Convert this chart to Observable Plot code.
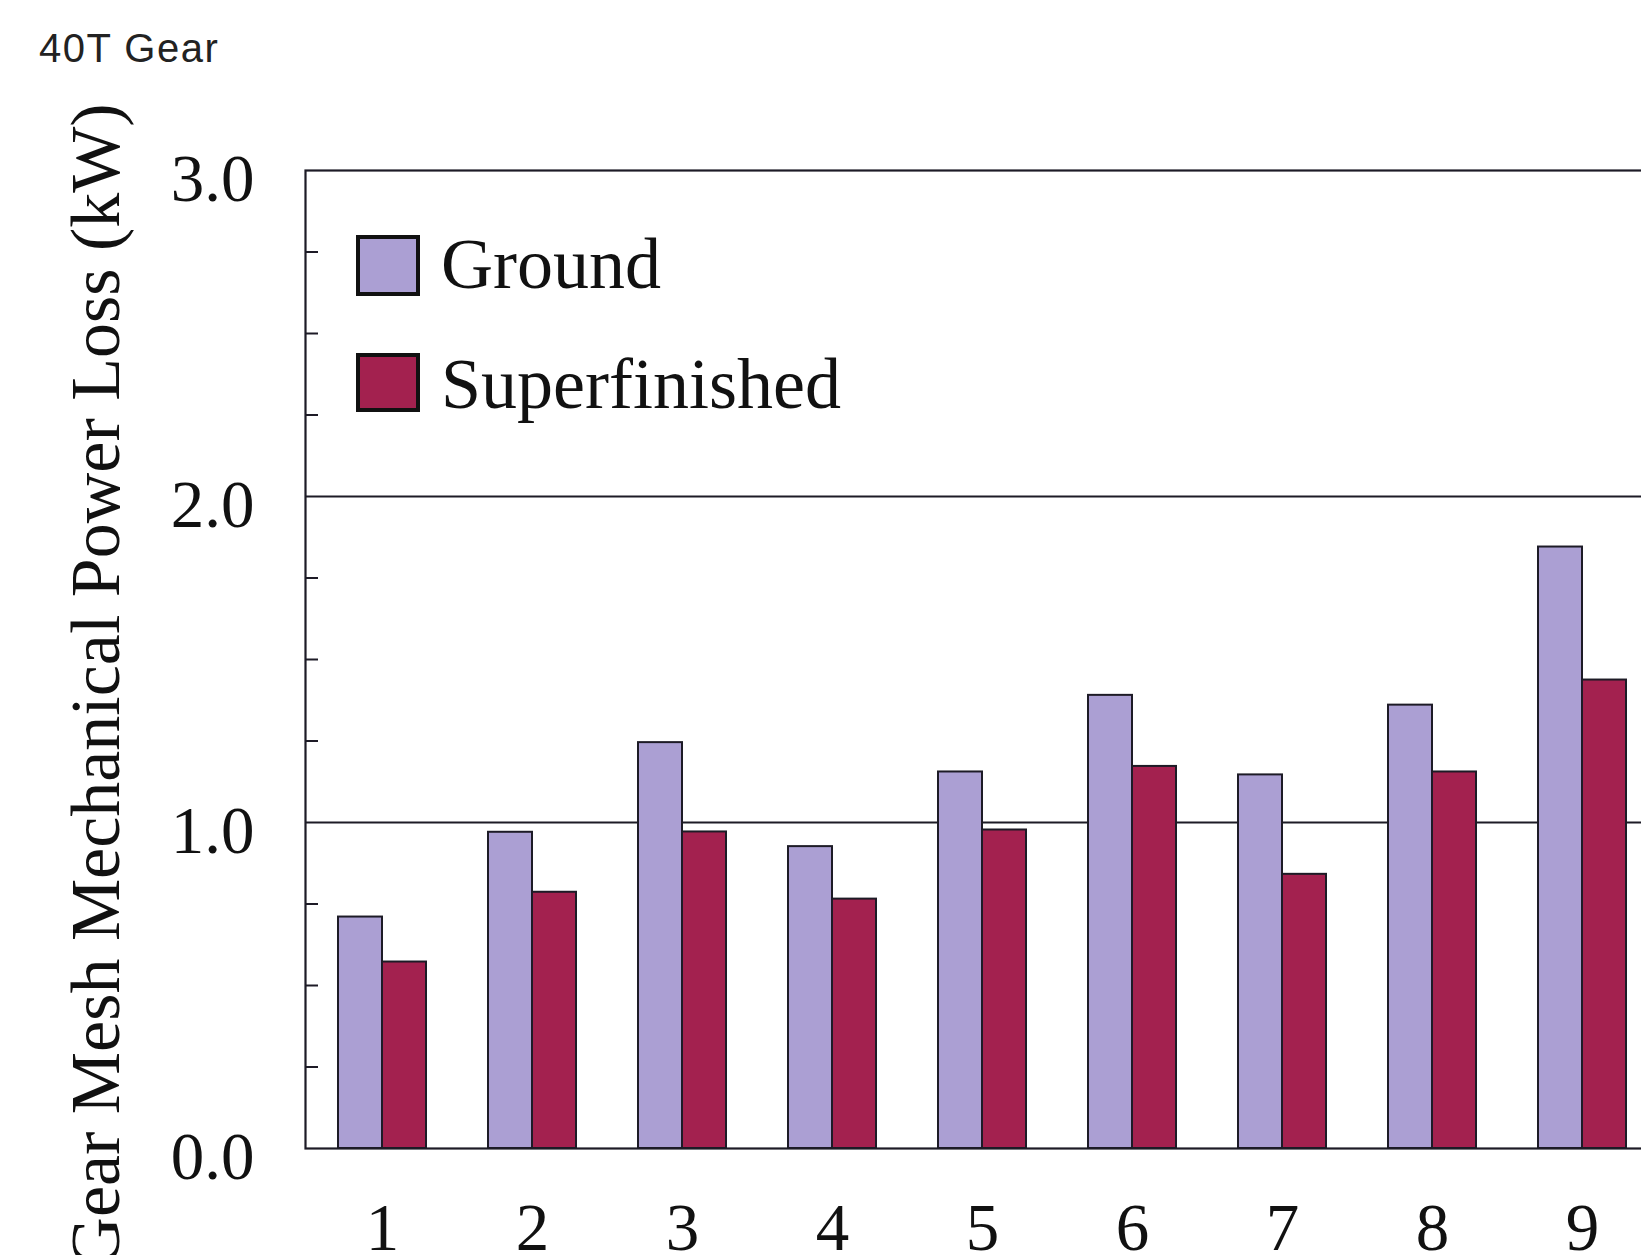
<!DOCTYPE html>
<html>
<head>
<meta charset="utf-8">
<script src="https://cdn.jsdelivr.net/npm/d3@7"></script>
<script src="https://cdn.jsdelivr.net/npm/@observablehq/plot@0.6"></script>
<style>
  html, body { margin: 0; padding: 0; background: white; overflow: hidden; }
  #page { position: relative; width: 1641px; height: 1255px; overflow: hidden; background: white; }
  #title { position: absolute; left: 39px; top: 28px; font: 40px/1 "Liberation Sans", Arial, sans-serif; letter-spacing: 1.5px; color: #222; white-space: nowrap; }
  #chart { position: absolute; left: 0; top: 80px; width: 1700px; height: 1175px; }
  #chart svg { max-width: none !important; }
  .sw { position: absolute; left: 356px; width: 56px; box-sizing: content-box; border: 4px solid #111; }
  .lt { position: absolute; left: 441px; font: 72px/1 "Liberation Serif", "Times New Roman", serif; color: #111; white-space: nowrap; }
</style>
</head>
<body>
<div id="page">
  <div id="title">40T Gear</div>
  <div id="chart"></div>
  <div id="legend"></div>
</div>
<script>
// ---- data ----
const groups = ["1", "2", "3", "4", "5", "6", "7", "8", "9"];
const ground = [0.71, 0.97, 1.245, 0.926, 1.155, 1.39, 1.146, 1.36, 1.845];
const superfinished = [0.572, 0.786, 0.971, 0.765, 0.977, 1.172, 0.841, 1.155, 1.437];
const seriesNames = ["Ground", "Superfinished"];
const seriesColors = ["#ab9fd3", "#a3214f"];
const yTicks = [0, 1, 2, 3];
const yMinorTicks = [0.25, 0.5, 0.75, 1.25, 1.5, 1.75, 2.25, 2.5, 2.75];
const yLabel = "Gear Mesh Mechanical Power Loss (kW)";

const rows = [];
groups.forEach((g, i) => {
  rows.push({group: g, series: seriesNames[0], value: ground[i]});
  rows.push({group: g, series: seriesNames[1], value: superfinished[i]});
});

const serif = "'Liberation Serif', 'Times New Roman', serif";
const ink = "#1d1b26";

function build(half) {
  return Plot.plot({
    width: 1700,
    height: 1175,
    marginLeft: 305,
    marginRight: 42,
    marginTop: 90,
    marginBottom: 107,
    style: {fontFamily: serif, background: "white", color: "#111", maxWidth: "none"},
    x: {domain: groups, paddingInner: 0.415, paddingOuter: 0.206},
    y: {domain: [0, 3]},
    color: {domain: seriesNames, range: seriesColors},
    marks: [
      Plot.ruleY([1, 2], {stroke: ink, strokeWidth: 2.2}),
      Plot.barY(rows.filter(d => d.series === seriesNames[0]), {x: "group", y: "value", fill: "series", stroke: ink, strokeWidth: 2, insetRight: half}),
      Plot.barY(rows.filter(d => d.series === seriesNames[1]), {x: "group", y: "value", fill: "series", stroke: ink, strokeWidth: 2, insetLeft: half}),
      Plot.frame({stroke: ink, strokeWidth: 2.2}),
      Plot.axisY({ticks: yMinorTicks, tickSize: -13, tickFormat: () => "", stroke: ink, strokeWidth: 2, label: null}),
      Plot.axisY({ticks: yTicks, tickSize: 0, tickPadding: 51, tickFormat: d3.format(".1f"), fontSize: 67, fontFamily: serif, fill: "#111", dy: 9, label: null}),
      Plot.axisX({tickSize: 0, tickPadding: 54, fontSize: 67, fontFamily: serif, fill: "#111", label: null}),
      Plot.text([yLabel], {text: d => d, frameAnchor: "left", textAnchor: "middle", rotate: -90, dx: -209, dy: 26, fontSize: 70, fontFamily: serif, fill: "#111"})
    ]
  });
}

// first pass to read the band width from the scale, then render
const probe = build(0);
const half = probe.scale("x").bandwidth / 2;
document.getElementById("chart").appendChild(build(half));

// legend (HTML, uses the same series names and colors)
const legend = document.getElementById("legend");
const swatchTops = [235, 353];
const swatchHeights = [53, 51];
const textTops = [228, 348];
seriesNames.forEach((name, i) => {
  const sw = document.createElement("div");
  sw.className = "sw";
  sw.style.top = swatchTops[i] + "px";
  sw.style.height = swatchHeights[i] + "px";
  sw.style.background = seriesColors[i];
  legend.appendChild(sw);
  const t = document.createElement("div");
  t.className = "lt";
  t.style.top = textTops[i] + "px";
  t.textContent = name;
  legend.appendChild(t);
});
</script>
</body>
</html>
